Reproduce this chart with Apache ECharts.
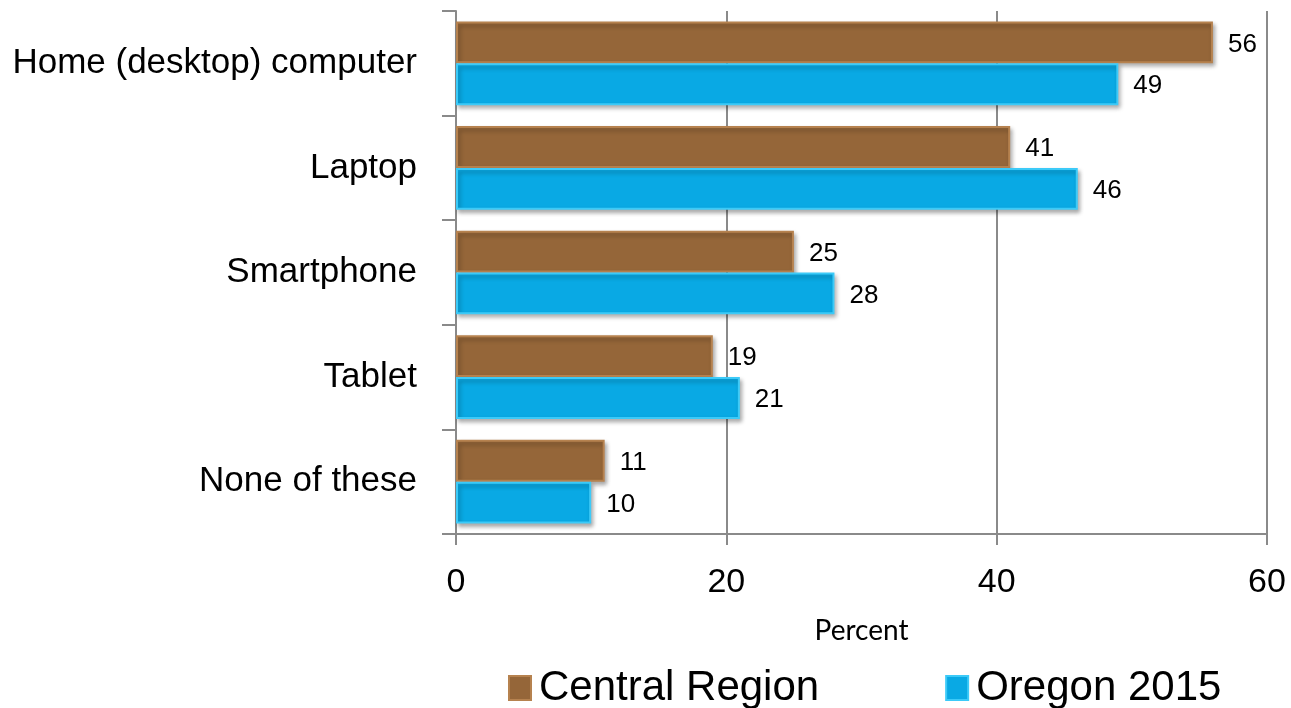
<!DOCTYPE html>
<html>
<head>
<meta charset="utf-8">
<script src="https://cdn.jsdelivr.net/npm/echarts@6/dist/echarts.min.js"></script>
<style>
  html, body { margin: 0; padding: 0; background: #fff; }
  #chart { width: 1291px; height: 708px; }
</style>
</head>
<body>
<div id="chart"></div>
<script>
// data
var categories = ["Home (desktop) computer", "Laptop", "Smartphone", "Tablet", "None of these"];
var centralRegion = [56, 41, 25, 19, 11];
var oregon2015 = [49, 46, 28, 21, 10];
var seriesNames = ["Central Region", "Oregon 2015"];

var chart = echarts.init(document.getElementById("chart"));

var labelStyle = {
    show: true,
    position: "right",
    distance: 15,
    fontFamily: "Liberation Sans",
    fontSize: 26,
    color: "#000",
    offset: [0, 2]
};

var option = {
    backgroundColor: "#fff",
    animation: false,
    grid: {
        left: 456,
        right: 24,
        top: 11,
        bottom: 174
    },
    legend: {
        data: seriesNames,
        left: 503,
        top: 662,
        itemWidth: 22,
        itemHeight: 24,
        itemGap: 126,
        icon: "rect",
        textStyle: {
            fontFamily: "Liberation Sans",
            fontSize: 42,
            color: "#000",
            padding: [0, 0, 0, 3]
        }
    },
    xAxis: {
        type: "value",
        min: 0,
        max: 60,
        interval: 20,
        name: "Percent",
        nameLocation: "middle",
        nameGap: 83,
        nameTextStyle: {
            fontFamily: "Lato",
            fontSize: 28,
            color: "#000"
        },
        axisLine: { show: true, lineStyle: { color: "#8a8a8a", width: 2 } },
        axisTick: { show: true, inside: false, length: 11, lineStyle: { color: "#8a8a8a", width: 2 } },
        splitLine: { show: true, lineStyle: { color: "#8a8a8a", width: 2 } },
        axisLabel: {
            margin: 32,
            fontFamily: "Liberation Sans",
            fontSize: 34,
            color: "#000"
        }
    },
    yAxis: {
        type: "category",
        data: categories,
        inverse: true,
        axisLine: { show: true, lineStyle: { color: "#8a8a8a", width: 2 } },
        axisTick: { show: true, length: 14, lineStyle: { color: "#8a8a8a", width: 2 } },
        axisLabel: {
            margin: 39,
            fontFamily: "Liberation Sans",
            fontSize: 35,
            color: "#000"
        }
    },
    series: [
        {
            name: seriesNames[0],
            type: "bar",
            data: centralRegion,
            barGap: "0%",
            barCategoryGap: "20%",
            itemStyle: {
                color: "#956639",
                borderColor: "#b6824f",
                borderWidth: 2,
                shadowColor: "rgba(0,0,0,0.3)",
                shadowBlur: 4,
                shadowOffsetX: 2,
                shadowOffsetY: 3
            },
            label: labelStyle
        },
        {
            name: seriesNames[1],
            type: "bar",
            data: oregon2015,
            barGap: "0%",
            barCategoryGap: "20%",
            itemStyle: {
                color: "#09a9e4",
                borderColor: "#3ccaf8",
                borderWidth: 2,
                shadowColor: "rgba(0,0,0,0.3)",
                shadowBlur: 4,
                shadowOffsetX: 2,
                shadowOffsetY: 3
            },
            label: labelStyle
        }
    ]
};

chart.setOption(option);
</script>
</body>
</html>
